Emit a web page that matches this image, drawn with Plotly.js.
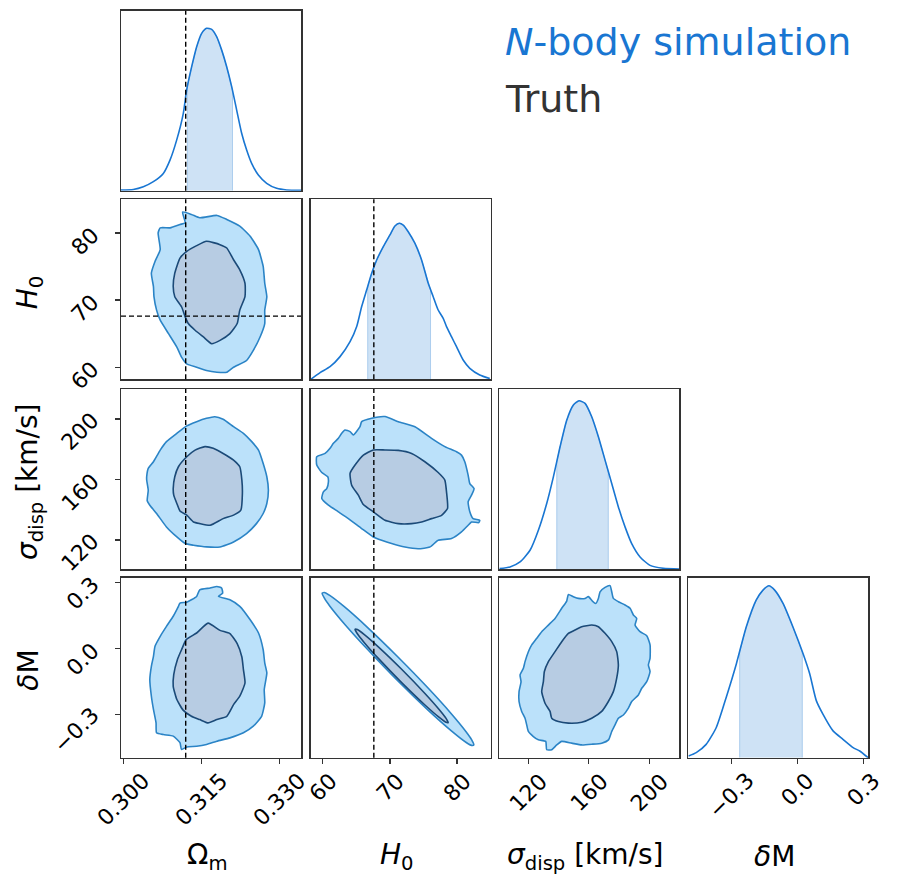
<!DOCTYPE html>
<html><head><meta charset="utf-8">
<script src="https://cdn.plot.ly/plotly-3.0.1.min.js"></script>
<style>html,body{margin:0;padding:0;background:#fff}#plot{width:897px;height:887px}</style>
</head><body><div id="plot"></div>
<script>
// ---------- parameter names, ticks ----------
const paramLabels = ['Ω<sub>m</sub>', '<i>H</i><sub>0</sub>', '<i>σ</i><sub>disp</sub>\u00a0[km/s]', '<i>δ</i>M'];
const omTicks = [0.300, 0.315, 0.330];   const omTickText = ['0.300', '0.315', '0.330'];
const h0Ticks = [60, 70, 80];            const h0TickText = ['60', '70', '80'];
const sigTicks = [120, 160, 200];        const sigTickText = ['120', '160', '200'];
const dmTicks = [-0.3, 0.0, 0.3];        const dmTickText = ['−0.3', '0.0', '0.3'];
const omRange = [0.29956, 0.33417];
const h0Range = [58.2, 85.0];
const sigRange = [100.8, 219.8];
const dmRange = [-0.495, 0.322];

// truth values
const truthOm = 0.3120;
const truthH0 = 67.6;

// ---------- 1D marginals (relative density) ----------
const omX = [0.29956,0.30193,0.30385,0.30578,0.30770,0.30898,0.31026,0.31154,0.31218,0.31315,0.31411,0.31507,0.31603,0.31699,0.31795,0.31892,0.31988,0.32084,0.32180,0.32276,0.32372,0.32468,0.32597,0.32757,0.32949,0.33142,0.33417];
const omY = [0.004,0.007,0.022,0.050,0.096,0.170,0.281,0.430,0.559,0.689,0.800,0.874,0.902,0.896,0.856,0.781,0.689,0.578,0.448,0.319,0.226,0.152,0.087,0.041,0.013,0.004,0.002];
const omShade = [0.3123, 0.3210];

const h0X = [58.21,59.60,61.08,62.57,64.06,65.05,65.79,66.53,67.28,68.02,69.01,70.00,70.74,71.39,71.98,72.72,73.71,74.71,75.70,76.44,77.18,77.93,78.42,79.16,79.91,80.90,81.89,83.37,84.86];
const h0Y = [0,0.037,0.070,0.126,0.209,0.293,0.404,0.496,0.589,0.663,0.737,0.802,0.852,0.867,0.857,0.820,0.756,0.663,0.533,0.459,0.385,0.339,0.293,0.237,0.181,0.107,0.061,0.024,0.004];
const h0Shade = [66.68, 76.04];

const sigX = [100.85,107.90,114.51,121.12,126.63,132.14,136.55,140.96,145.37,149.77,153.52,157.49,161.90,166.30,170.71,175.12,179.52,183.93,188.34,193.85,200.46,209.28,219.85];
const sigY = [0.002,0.011,0.039,0.104,0.215,0.364,0.512,0.679,0.827,0.911,0.935,0.920,0.846,0.735,0.605,0.475,0.345,0.234,0.141,0.067,0.020,0.004,0];
const sigShade = [138.76, 172.89];

const dmX = [-0.494,-0.459,-0.414,-0.368,-0.323,-0.277,-0.232,-0.187,-0.156,-0.129,-0.103,-0.065,-0.020,0.026,0.056,0.086,0.116,0.162,0.207,0.253,0.283,0.321];
const dmY = [0.009,0.028,0.074,0.168,0.335,0.521,0.726,0.875,0.931,0.955,0.931,0.857,0.726,0.577,0.466,0.317,0.242,0.149,0.102,0.056,0.037,0];
const dmShade = [-0.262, 0.0226];

// ---------- 2D credible contours (outer = 95%, inner = 68%) ----------
const omH0OuterX = [0.3114,0.3131,0.3147,0.3180,0.3199,0.3224,0.3244,0.3260,0.3269,0.3272,0.3276,0.3272,0.3272,0.3263,0.3250,0.3237,0.3212,0.3199,0.3180,0.3160,0.3141,0.3122,0.3112,0.3103,0.3087,0.3071,0.3064,0.3059,0.3058,0.3054,0.3061,0.3071,0.3067,0.3071,0.3090,0.3109,0.3119];
const omH0OuterY = [83.1,82.75,82.25,82.6,82.0,81.0,79.5,77.5,75.0,72.5,70.5,68.5,66.5,64.5,62.5,61.0,60.0,59.25,59.25,59.5,60.0,60.5,61.5,63.0,65.0,67.0,68.5,70.5,72.0,74.0,75.75,77.5,80.0,80.75,80.75,81.25,81.5];
const omH0InnerX = [0.3160,0.3186,0.3199,0.3212,0.3224,0.3234,0.3234,0.3224,0.3219,0.3205,0.3186,0.3170,0.3154,0.3138,0.3125,0.3119,0.3112,0.3099,0.3096,0.3099,0.3109,0.3122,0.3141];
const omH0InnerY = [78.75,78.25,77.75,76.0,74.5,72.5,70.5,68.5,66.5,65.0,64.0,63.5,64.5,65.5,66.5,67.5,69.0,70.5,72.0,74.0,76.25,77.25,78.1];

const omSigOuterX = [0.3045,0.3048,0.3058,0.3071,0.3083,0.3103,0.3122,0.3141,0.3160,0.3176,0.3192,0.3212,0.3231,0.3247,0.3260,0.3269,0.3276,0.3279,0.3276,0.3269,0.3256,0.3237,0.3212,0.3186,0.3160,0.3135,0.3119,0.3103,0.3083,0.3064,0.3051,0.3046,0.3048,0.3045];
const omSigOuterY = [161.8,167.3,171.7,179.4,185.0,190.5,195.4,198.2,200.4,201.5,199.8,194.9,190.5,185.0,179.4,170.6,161.8,152.9,144.1,137.5,130.8,124.2,118.7,115.4,115.4,116.5,117.6,122.0,128.6,137.5,143.0,145.9,152.9,159.6];
const omSigInnerX = [0.3096,0.3099,0.3106,0.3122,0.3138,0.3157,0.3173,0.3192,0.3212,0.3224,0.3228,0.3229,0.3226,0.3212,0.3192,0.3167,0.3147,0.3135,0.3122,0.3109,0.3103,0.3097];
const omSigInnerY = [154.0,161.8,168.4,175.0,179.4,181.7,180.6,177.2,172.8,168.4,159.6,150.7,139.7,136.4,134.1,129.7,130.8,131.9,136.4,139.2,144.1,149.6];

const omDmOuterX = [0.3109,0.3122,0.3141,0.3147,0.3167,0.3180,0.3189,0.3191,0.3183,0.3205,0.3224,0.3244,0.3260,0.3269,0.3272,0.3276,0.3271,0.3272,0.3266,0.3250,0.3231,0.3205,0.3180,0.3160,0.3141,0.3122,0.3112,0.3109,0.3096,0.3077,0.3064,0.3063,0.3058,0.3054,0.3051,0.3054,0.3058,0.3061,0.3071,0.3083,0.3096,0.3106];
const omDmOuterY = [0.207,0.211,0.237,0.267,0.275,0.282,0.275,0.252,0.237,0.222,0.192,0.131,0.071,-0.005,-0.065,-0.110,-0.186,-0.246,-0.307,-0.352,-0.382,-0.405,-0.420,-0.435,-0.443,-0.446,-0.458,-0.427,-0.397,-0.390,-0.382,-0.337,-0.276,-0.216,-0.140,-0.080,-0.035,0.011,0.056,0.101,0.147,0.192];
const omDmInnerX = [0.3163,0.3186,0.3205,0.3219,0.3228,0.3231,0.3234,0.3224,0.3212,0.3199,0.3180,0.3163,0.3147,0.3131,0.3115,0.3103,0.3096,0.3097,0.3104,0.3112,0.3121,0.3141];
const omDmInnerY = [0.116,0.083,0.068,0.023,-0.038,-0.095,-0.156,-0.216,-0.254,-0.307,-0.322,-0.337,-0.322,-0.307,-0.279,-0.231,-0.171,-0.118,-0.050,-0.005,0.041,0.071];

const h0SigOuterX = [59.10,60.34,61.08,61.58,62.32,62.82,63.31,64.06,64.55,65.54,65.79,67.28,69.26,71.24,73.72,76.19,78.17,79.91,80.65,81.14,81.64,81.89,82.53,82.14,81.64,81.89,82.38,83.37,83.22,82.14,81.64,80.65,79.16,77.18,75.94,74.21,72.23,70.25,68.76,67.52,65.79,63.81,62.32,60.84,59.85,60.09,60.59,60.84,60.74,59.85,59.10];
const h0SigOuterY = [175.0,177.2,180.6,183.9,187.2,190.5,192.7,191.6,189.4,194.9,198.2,200.5,201.6,198.2,194.9,187.2,181.7,178.3,176.1,171.7,162.9,157.3,154.0,149.6,145.2,138.6,134.1,133.0,131.5,131.9,129.7,125.3,120.9,119.8,115.3,114.2,115.3,117.6,119.8,122.0,127.5,134.1,138.6,143.0,147.4,151.8,154.0,158.5,161.8,164.6,169.5];
const h0SigInnerX = [64.06,64.80,66.04,67.52,69.26,71.24,73.22,75.20,77.18,78.17,78.42,78.57,77.68,76.19,74.71,73.22,71.24,69.26,67.52,66.04,65.29,64.30];
const h0SigInnerY = [164.0,169.5,176.1,179.5,179.5,179.2,177.2,171.7,164.6,159.6,151.8,140.8,136.3,134.1,131.9,130.8,130.8,133.0,138.6,143.4,149.6,156.2];

const h0DmOuterX = [59.90,60.24,61.03,63.29,66.68,71.19,75.71,79.10,81.36,82.15,82.49,82.15,81.36,79.10,75.71,71.19,66.68,63.29,61.03,60.24];
const h0DmOuterY = [0.252,0.255,0.2415,0.188,0.0955,-0.038,-0.180,-0.294,-0.378,-0.413,-0.437,-0.439,-0.426,-0.372,-0.280,-0.147,-0.004,0.110,0.194,0.229];
const h0DmInnerX = [64.80,65.15,66.19,68.27,71.74,75.21,77.29,78.33,78.67,78.33,77.29,75.21,71.74,68.27,66.19,65.15];
const h0DmInnerY = [0.0876,0.0864,0.0634,0.008,-0.0937,-0.2035,-0.275,-0.3154,-0.335,-0.334,-0.311,-0.2557,-0.154,-0.0443,0.0272,0.0677];

const sigDmOuterX = [146.47,149.77,153.08,157.49,159.69,162.34,164.54,166.30,167.40,170.71,174.02,175.12,176.22,179.52,183.93,187.24,189.44,191.64,190.54,193.85,198.26,200.46,200.46,199.36,200.46,198.26,194.95,192.75,188.34,186.14,182.83,179.52,177.32,175.12,173.01,168.51,161.90,155.29,148.68,142.06,138.76,135.45,132.14,131.48,126.63,123.33,120.02,118.92,117.82,115.61,113.85,113.85,115.17,114.51,116.72,117.82,120.02,122.23,125.53,128.84,133.25,137.65,142.06,145.37];
const sigDmOuterY = [0.246,0.236,0.228,0.228,0.236,0.216,0.205,0.228,0.258,0.278,0.286,0.258,0.228,0.213,0.198,0.183,0.153,0.137,0.107,0.077,0.059,0.017,-0.044,-0.074,-0.104,-0.150,-0.180,-0.210,-0.240,-0.270,-0.301,-0.316,-0.346,-0.376,-0.414,-0.429,-0.434,-0.437,-0.429,-0.421,-0.437,-0.459,-0.459,-0.421,-0.414,-0.399,-0.376,-0.346,-0.316,-0.285,-0.240,-0.195,-0.150,-0.119,-0.089,-0.059,-0.014,0.017,0.047,0.077,0.107,0.137,0.183,0.216];
const sigDmInnerX = [155.29,161.90,166.30,170.71,175.12,178.42,179.52,178.42,176.22,172.91,168.51,161.90,155.29,146.47,139.86,135.45,134.35,131.04,128.84,129.94,130.60,133.25,137.65,142.06,146.47,150.88];
const sigDmInnerY = [0.0997,0.107,0.0997,0.0695,0.0317,-0.0136,-0.074,-0.134,-0.195,-0.240,-0.285,-0.316,-0.334,-0.338,-0.331,-0.316,-0.285,-0.248,-0.195,-0.150,-0.104,-0.059,-0.0136,0.0317,0.0695,0.0846];

// ---------- layout geometry / styles ----------
const W = 897, H = 887;
const colPx = [[121, 301], [310.7, 490.7], [499.3, 679.3], [688.3, 868.3]];
const rowPx = [[10.7, 190.7], [199.3, 379.3], [389, 569], [577.7, 757.7]];
const BLUE = '#1976d2';
const SHADE = 'rgba(25,118,210,0.21)';
const OUT_FILL = 'rgb(187,225,250)', OUT_LINE = '#2b84c6';
const IN_FILL = 'rgb(183,204,227)', IN_LINE = '#1b4a78';
const FONT = 'DejaVu Sans';
const TICK_SIZE = 22, LABEL_SIZE = 28, LEGEND_SIZE = 38;
const CHAR_W = {'0': .636, '1': .636, '2': .636, '3': .636, '5': .636, '6': .636, '7': .636, '8': .636, '.': .318, '−': .838};
const textW = t => t.split('').reduce((a, ch) => a + (CHAR_W[ch] || .636), 0) * TICK_SIZE;

const params = [
  {range: omRange, tv: omTicks, tt: omTickText},
  {range: h0Range, tv: h0Ticks, tt: h0TickText},
  {range: sigRange, tv: sigTicks, tt: sigTickText},
  {range: dmRange, tv: dmTicks, tt: dmTickText}
];
const marg = [[omX, omY, omShade], [h0X, h0Y, h0Shade], [sigX, sigY, sigShade], [dmX, dmY, dmShade]];
const contours = {
  '1,0': [omH0OuterX, omH0OuterY, omH0InnerX, omH0InnerY],
  '2,0': [omSigOuterX, omSigOuterY, omSigInnerX, omSigInnerY],
  '3,0': [omDmOuterX, omDmOuterY, omDmInnerX, omDmInnerY],
  '2,1': [h0SigOuterX, h0SigOuterY, h0SigInnerX, h0SigInnerY],
  '3,1': [h0DmOuterX, h0DmOuterY, h0DmInnerX, h0DmInnerY],
  '3,2': [sigDmOuterX, sigDmOuterY, sigDmInnerX, sigDmInnerY]
};

const close = a => a.concat([a[0]]);

const layout = {
  width: W, height: H, margin: {l: 0, r: 0, t: 0, b: 0},
  paper_bgcolor: '#fff', plot_bgcolor: 'rgba(0,0,0,0)', showlegend: false,
  font: {family: FONT, color: '#000'},
  shapes: [], annotations: []
};
const traces = [];
let n = 0;
for (let r = 0; r < 4; r++) {
  for (let c = 0; c <= r; c++) {
    n++;
    const s = n === 1 ? '' : String(n);
    const xref = 'x' + s, yref = 'y' + s;
    const showX = r === 3, showY = (c === 0 && r > 0);
    layout['xaxis' + s] = {
      domain: [colPx[c][0] / W, colPx[c][1] / W], range: params[c].range, anchor: yref,
      showline: true, mirror: true, linecolor: '#333', linewidth: 1.5,
      showgrid: false, zeroline: false, fixedrange: true,
      tickmode: 'array', tickvals: params[c].tv,
      ticks: showX ? 'outside' : '', showticklabels: false, ticklen: 5, tickwidth: 1.3, tickcolor: '#333'
    };
    layout['yaxis' + s] = {
      domain: [1 - rowPx[r][1] / H, 1 - rowPx[r][0] / H],
      range: r === c ? [0, 1] : params[r].range, anchor: xref,
      showline: true, mirror: true, linecolor: '#333', linewidth: 1.5,
      showgrid: false, zeroline: false, fixedrange: true,
      tickmode: 'array', tickvals: params[r].tv,
      ticks: showY ? 'outside' : '', showticklabels: false, ticklen: 5, tickwidth: 1.3, tickcolor: '#333'
    };
    // rotated tick labels (matplotlib style: centred under tick / right-aligned beside tick)
    if (showX) {
      params[c].tv.forEach((v, i) => layout.annotations.push({
        text: params[c].tt[i], xref: xref, x: v, yref: 'paper', y: 1 - 767 / H,
        xanchor: 'center', yanchor: 'top', textangle: -45, showarrow: false, borderpad: 0,
        font: {family: FONT, size: TICK_SIZE, color: '#000'}}));
    }
    if (showY) {
      params[r].tv.forEach((v, i) => layout.annotations.push({
        text: params[r].tt[i], xref: 'paper', x: 105 / W, yref: yref, y: v,
        xanchor: 'right', yanchor: 'middle', textangle: -45, showarrow: false, borderpad: 0,
        yshift: -0.3 * textW(params[r].tt[i]),
        font: {family: FONT, size: TICK_SIZE, color: '#000'}}));
    }
    if (r === c) {
      const [xs, ys, sh] = marg[c];
      // shaded credible interval: curve clipped to [lo, hi]
      const interp = v => {
        for (let i = 0; i < xs.length - 1; i++) {
          if (v >= xs[i] && v <= xs[i + 1]) return ys[i] + (ys[i + 1] - ys[i]) * (v - xs[i]) / (xs[i + 1] - xs[i]);
        }
        return 0;
      };
      const fx = [sh[0], sh[0]], fy = [0, interp(sh[0])];
      xs.forEach((v, i) => { if (v > sh[0] && v < sh[1]) { fx.push(v); fy.push(ys[i]); } });
      fx.push(sh[1], sh[1]); fy.push(interp(sh[1]), 0);
      traces.push({type: 'scatter', x: fx, y: fy, xaxis: xref, yaxis: yref, mode: 'lines',
        fill: 'toself', fillcolor: SHADE, line: {color: 'rgba(25,118,210,0.28)', width: 1}, hoverinfo: 'skip'});
      traces.push({type: 'scatter', x: xs, y: ys, xaxis: xref, yaxis: yref, mode: 'lines',
        line: {color: BLUE, width: 1.6, shape: 'spline', smoothing: 0.6}, hoverinfo: 'skip'});
    } else {
      const [ox, oy, ix, iy] = contours[r + ',' + c];
      traces.push({type: 'scatter', x: close(ox), y: close(oy), xaxis: xref, yaxis: yref, mode: 'lines',
        fill: 'toself', fillcolor: OUT_FILL, line: {color: OUT_LINE, width: 1.6, shape: 'spline', smoothing: 0.5}, hoverinfo: 'skip'});
      traces.push({type: 'scatter', x: close(ix), y: close(iy), xaxis: xref, yaxis: yref, mode: 'lines',
        fill: 'toself', fillcolor: IN_FILL, line: {color: IN_LINE, width: 1.6, shape: 'spline', smoothing: 0.5}, hoverinfo: 'skip'});
    }
    // truth lines
    const dash = {color: '#000', width: 1.4, dash: '5px,3px'};
    if (c === 0) layout.shapes.push({type: 'line', xref: xref, yref: yref + ' domain', x0: truthOm, x1: truthOm, y0: 0, y1: 1, line: dash});
    if (c === 1) layout.shapes.push({type: 'line', xref: xref, yref: yref + ' domain', x0: truthH0, x1: truthH0, y0: 0, y1: 1, line: dash});
    if (r === 1 && c === 0) layout.shapes.push({type: 'line', xref: xref + ' domain', yref: yref, x0: 0, x1: 1, y0: truthH0, y1: truthH0, line: dash});
  }
}

// axis titles
for (let c = 0; c < 4; c++) {
  layout.annotations.push({text: paramLabels[c], xref: 'paper', yref: 'paper',
    x: (colPx[c][0] + colPx[c][1]) / 2 / W - 4 / W, y: 1 - 856 / H, xanchor: 'center', yanchor: 'middle',
    showarrow: false, font: {family: FONT, size: LABEL_SIZE, color: '#000'}});
}
for (let r = 1; r < 4; r++) {
  layout.annotations.push({text: paramLabels[r], xref: 'paper', yref: 'paper',
    x: 29 / W, y: 1 - ((rowPx[r][0] + rowPx[r][1]) / 2 + 3) / H, xanchor: 'center', yanchor: 'middle', textangle: -90,
    showarrow: false, font: {family: FONT, size: LABEL_SIZE, color: '#000'}});
}
// legend text
layout.annotations.push({text: '<i>N</i>-body simulation', xref: 'paper', yref: 'paper', x: 503 / W, y: 1 - 42 / H,
  xanchor: 'left', yanchor: 'middle', showarrow: false, font: {family: FONT, size: LEGEND_SIZE, color: BLUE}});
layout.annotations.push({text: 'Truth', xref: 'paper', yref: 'paper', x: 503 / W, y: 1 - 99 / H,
  xanchor: 'left', yanchor: 'middle', showarrow: false, font: {family: FONT, size: LEGEND_SIZE, color: '#333'}});

Plotly.newPlot('plot', traces, layout, {staticPlot: true, displayModeBar: false});
</script>
</body></html>
